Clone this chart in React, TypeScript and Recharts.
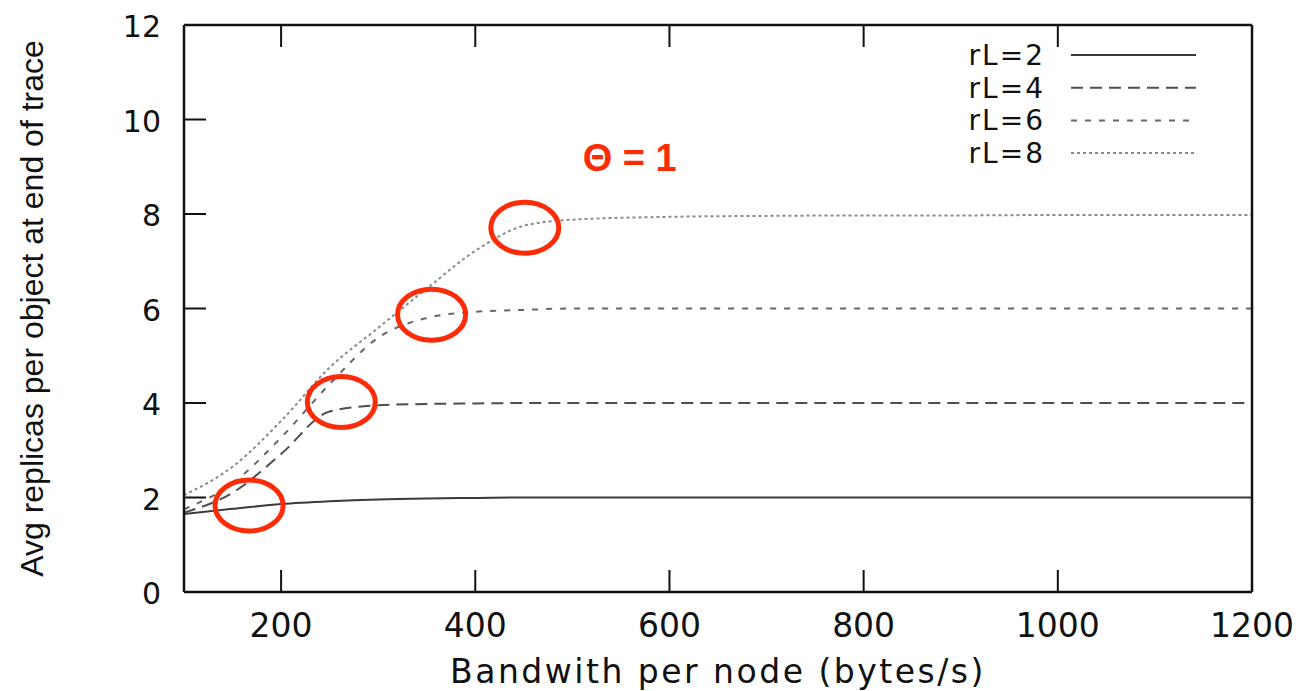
import { Legend, Line, LineChart, ReferenceDot, XAxis, YAxis } from "recharts";

// bandwidth per node (bytes/s)
const bandwidth = [100, 150, 200, 250, 300, 350, 400, 450, 500, 600, 700, 800, 900, 1000, 1100, 1200];
const rl2 = [1.65, 1.76, 1.86, 1.92, 1.96, 1.98, 1.99, 2, 2, 2, 2, 2, 2, 2, 2, 2];
const rl4 = [1.68, 2.1, 2.92, 3.82, 3.95, 3.98, 3.99, 4, 4, 4, 4, 4, 4, 4, 4, 4];
const rl6 = [1.75, 2.3, 3.27, 4.4, 5.38, 5.8, 5.93, 5.97, 6, 6, 6, 6, 6, 6, 6, 6];
const rl8 = [2.05, 2.65, 3.62, 4.75, 5.59, 6.42, 7.22, 7.75, 7.88, 7.94, 7.96, 7.97, 7.97, 7.98, 7.98, 7.98];

const xTicks = [200, 400, 600, 800, 1000, 1200];
const yTicks = [0, 2, 4, 6, 8, 10, 12];

// red circles marking where each curve saturates
const highlights = [
  { x: 167, y: 1.83 },
  { x: 262, y: 4.02 },
  { x: 355, y: 5.87 },
  { x: 451, y: 7.71 },
];
const thetaNote = { x: 559, y: 9.18, text: "Θ = 1" };

const series = [
  { key: "rl2", name: "rL=2", values: rl2, color: "#3a3a3a", dash: undefined },
  { key: "rl4", name: "rL=4", values: rl4, color: "#4e4e4e", dash: "12 7" },
  { key: "rl6", name: "rL=6", values: rl6, color: "#666666", dash: "6 8" },
  { key: "rl8", name: "rL=8", values: rl8, color: "#8a8a8a", dash: "3 3" },
];

const data = bandwidth.map((x, i) => {
  const row: any = { x };
  series.forEach((s) => (row[s.key] = s.values[i]));
  return row;
});

const font = "'DejaVu Sans', sans-serif";
const red = "#fd2c06";
const TICK_LEN = 22;

const BottomTick = ({ x, y, payload }: any) => (
  <g>
    <line x1={x} y1={y} x2={x} y2={y - TICK_LEN} stroke="#111" strokeWidth={2} />
    <text x={x} y={y + 45} textAnchor="middle" fontFamily={font} fontSize={33} fill="#111">
      {payload.value}
    </text>
  </g>
);

const TopTick = ({ x, y }: any) => (
  <line x1={x} y1={y} x2={x} y2={y + TICK_LEN} stroke="#111" strokeWidth={2} />
);

const LeftTick = ({ x, y, payload }: any) => (
  <g>
    <line x1={x} y1={y} x2={x + TICK_LEN} y2={y} stroke="#111" strokeWidth={2} />
    <text x={x - 23} y={y + 12} textAnchor="end" fontFamily={font} fontSize={30} fill="#111">
      {payload.value}
    </text>
  </g>
);

const RightTick = ({ x, y }: any) => (
  <line x1={x} y1={y} x2={x - TICK_LEN} y2={y} stroke="#111" strokeWidth={2} />
);

const YTitle = ({ viewBox }: any) => {
  const cx = 24;
  const cy = viewBox.y + viewBox.height / 2;
  return (
    <text
      x={cx}
      y={cy}
      transform={`rotate(-90, ${cx}, ${cy})`}
      textAnchor="middle"
      dominantBaseline="central"
      fontFamily="'Liberation Sans', Arial, sans-serif"
      fontSize={32}
      fill="#111"
    >
      Avg replicas per object at end of trace
    </text>
  );
};

const LegendBox = () => (
  <svg width={290} height={140}>
    {series.map((s, i) => {
      const y = 22 + i * 32.7;
      return (
        <g key={s.key}>
          <text
            x={107}
            y={y + 10}
            textAnchor="end"
            fontFamily={font}
            fontSize={28}
            letterSpacing={2}
            fill="#111"
          >
            {s.name}
          </text>
          <line x1={133} y1={y} x2={258} y2={y} stroke={s.color} strokeWidth={2} strokeDasharray={s.dash} />
        </g>
      );
    })}
  </svg>
);

const Ellipse = ({ cx, cy }: any) => (
  <ellipse cx={cx} cy={cy} rx={34} ry={25.5} fill="none" stroke={red} strokeWidth={5} />
);

const Note = ({ cx, cy }: any) => (
  <text
    x={cx}
    y={cy}
    textAnchor="middle"
    dominantBaseline="central"
    fontFamily="'Liberation Sans', Arial, sans-serif"
    fontWeight="bold"
    fontSize={38}
    fill={red}
  >
    {thetaNote.text}
  </text>
);

export default function App() {
  return (
    <LineChart
      width={1290}
      height={683}
      data={data}
      style={{ overflow: "visible" }}
      margin={{ top: 16, right: 45, left: 0, bottom: 0 }}
    >
      <XAxis
        xAxisId="b"
        dataKey="x"
        type="number"
        domain={[100, 1200]}
        ticks={xTicks}
        allowDataOverflow
        height={99}
        tickSize={0}
        tickMargin={0}
        tick={<BottomTick />}
        axisLine={{ stroke: "#111", strokeWidth: 2.5 }}
        label={{
          value: "Bandwith per node (bytes/s)",
          position: "insideBottom",
          offset: 8,
          fontFamily: font,
          fontSize: 33,
          letterSpacing: 2.5,
          fill: "#111",
        }}
      />
      <XAxis
        xAxisId="t"
        orientation="top"
        dataKey="x"
        type="number"
        domain={[100, 1200]}
        ticks={xTicks}
        allowDataOverflow
        height={1}
        tickSize={0}
        tickMargin={0}
        tick={<TopTick />}
        axisLine={{ stroke: "#111", strokeWidth: 2.5 }}
      />
      <YAxis
        yAxisId="l"
        type="number"
        domain={[0, 12]}
        ticks={yTicks}
        width={176}
        tickSize={0}
        tickMargin={0}
        tick={<LeftTick />}
        axisLine={{ stroke: "#111", strokeWidth: 2.5 }}
        label={{ content: <YTitle /> }}
      />
      <YAxis
        yAxisId="r"
        orientation="right"
        type="number"
        domain={[0, 12]}
        ticks={yTicks}
        width={1}
        tickSize={0}
        tickMargin={0}
        tick={<RightTick />}
        axisLine={{ stroke: "#111", strokeWidth: 2.5 }}
      />
      <Legend
        layout="horizontal"
        verticalAlign="middle"
        align="center"
        wrapperStyle={{ top: 25, left: 930, width: 290, height: 140 }}
        content={<LegendBox />}
      />
      {series.map((s) => (
        <Line
          key={s.key}
          xAxisId="b"
          yAxisId="l"
          type="monotone"
          dataKey={s.key}
          name={s.name}
          stroke={s.color}
          strokeWidth={2}
          strokeDasharray={s.dash}
          dot={false}
          activeDot={false}
          isAnimationActive={false}
        />
      ))}
      {highlights.map((h, i) => (
        <ReferenceDot key={i} xAxisId="b" yAxisId="l" x={h.x} y={h.y} shape={<Ellipse />} />
      ))}
      <ReferenceDot xAxisId="b" yAxisId="l" x={thetaNote.x} y={thetaNote.y} shape={<Note />} />
    </LineChart>
  );
}
